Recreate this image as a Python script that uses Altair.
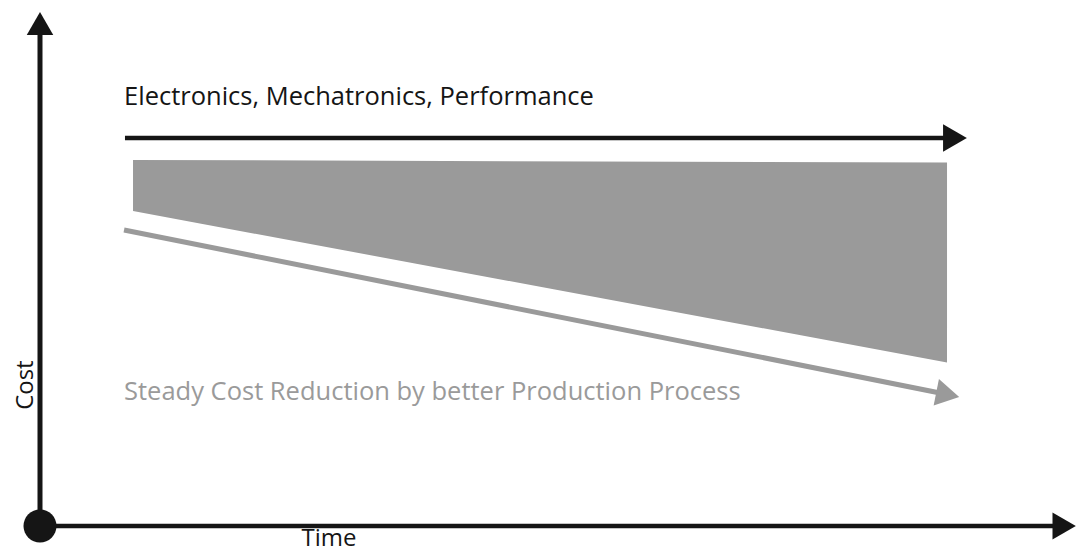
import altair as alt
import pandas as pd

# Coordinate system: time (x) and cost (y) in arbitrary units, origin at the axes' corner
X_DOMAIN = [-3.065, 99.234]
Y_DOMAIN = [-5.019, 100.0]

# Axes
axis_x_end = [0.0, 97.4]          # horizontal (Time) axis line
axis_y_end = [0.0, 95.4]          # vertical (Cost) axis line
axis_x_head = [98.1]              # arrow head position on time axis
axis_y_head = [97.0]              # arrow head position on cost axis

# Black arrow: Electronics, Mechatronics, Performance
perf_x = [8.14, 86.78]
perf_y = [74.9, 74.9]
perf_head_x = [87.64]
perf_head_y = [74.9]

# Grey wedge (cost gap)
wedge_x = [8.91, 86.88]
wedge_top = [70.66, 70.17]
wedge_bottom = [60.81, 31.56]

# Grey arrow: steady cost reduction
red_x = [8.05, 86.21]
red_y = [57.14, 25.68]
red_head_x = [86.95]
red_head_y = [25.37]
red_angle = 11.3

# Labels
label_perf = "Electronics, Mechatronics, Performance"
label_red = "Steady Cost Reduction by better Production Process"
label_x_title = "Time"
label_y_title = "Cost"

FONT = "Open Sans"
BLACK = "#151515"
GREY = "#9a9a9a"

xs = alt.Scale(domain=X_DOMAIN, nice=False, zero=False)
ys = alt.Scale(domain=Y_DOMAIN, nice=False, zero=False)


def X(field):
    return alt.X(field, type="quantitative", scale=xs, axis=None)


def Y(field):
    return alt.Y(field, type="quantitative", scale=ys, axis=None)


# wedge
wedge = alt.Chart(pd.DataFrame({"x": wedge_x, "top": wedge_top, "bottom": wedge_bottom})).mark_area(
    color=GREY, opacity=1
).encode(x=X("x"), y=Y("top"), y2="bottom")

# axes lines
yaxis = alt.Chart(pd.DataFrame({"x": [0.0, 0.0], "y": axis_y_end})).mark_line(
    color=BLACK, strokeWidth=5
).encode(x=X("x"), y=Y("y"))
xaxis = alt.Chart(pd.DataFrame({"x": axis_x_end, "y": [0.0, 0.0]})).mark_line(
    color=BLACK, strokeWidth=4.5
).encode(x=X("x"), y=Y("y"))

yhead = alt.Chart(pd.DataFrame({"x": [0.0], "y": axis_y_head})).mark_point(
    shape="triangle-up", filled=True, color=BLACK, size=702, opacity=1
).encode(x=X("x"), y=Y("y"))
xhead = alt.Chart(pd.DataFrame({"x": axis_x_head, "y": [0.0]})).mark_point(
    shape="triangle-right", filled=True, color=BLACK, size=729, opacity=1
).encode(x=X("x"), y=Y("y"))

origin = alt.Chart(pd.DataFrame({"x": [0.0], "y": [0.0]})).mark_point(
    shape="circle", filled=True, color=BLACK, size=1089, opacity=1
).encode(x=X("x"), y=Y("y"))

# performance arrow
perf = alt.Chart(pd.DataFrame({"x": perf_x, "y": perf_y})).mark_line(
    color=BLACK, strokeWidth=4.5
).encode(x=X("x"), y=Y("y"))
perf_head = alt.Chart(pd.DataFrame({"x": perf_head_x, "y": perf_head_y})).mark_point(
    shape="triangle-right", filled=True, color=BLACK, size=756, opacity=1
).encode(x=X("x"), y=Y("y"))

# reduction arrow
red = alt.Chart(pd.DataFrame({"x": red_x, "y": red_y})).mark_line(
    color=GREY, strokeWidth=5
).encode(x=X("x"), y=Y("y"))
red_head = alt.Chart(pd.DataFrame({"x": red_head_x, "y": red_head_y})).mark_point(
    shape="triangle-right", filled=True, color=GREY, size=729, opacity=1, angle=red_angle
).encode(x=X("x"), y=Y("y"))

# texts
t_perf = alt.Chart(pd.DataFrame({"x": [8.05], "y": [81.27], "label": [label_perf]})).mark_text(
    font=FONT, fontSize=25.5, color=BLACK, align="left", baseline="alphabetic"
).encode(x=X("x"), y=Y("y"), text="label:N")
t_red = alt.Chart(pd.DataFrame({"x": [8.05], "y": [24.32], "label": [label_red]})).mark_text(
    font=FONT, fontSize=25.5, color=GREY, align="left", baseline="alphabetic"
).encode(x=X("x"), y=Y("y"), text="label:N")
t_time = alt.Chart(pd.DataFrame({"x": [27.68], "y": [-4.85], "label": [label_x_title]})).mark_text(
    font=FONT, fontSize=24, color=BLACK, align="center", baseline="bottom"
).encode(x=X("x"), y=Y("y"), text="label:N")
t_cost = alt.Chart(pd.DataFrame({"x": [-0.67], "y": [27.2], "label": [label_y_title]})).mark_text(
    font=FONT, fontSize=24, color=BLACK, align="center", baseline="alphabetic", angle=270
).encode(x=X("x"), y=Y("y"), text="label:N")

chart = alt.layer(
    wedge, red, red_head, perf, perf_head, yaxis, xaxis, yhead, xhead, origin,
    t_perf, t_red, t_time, t_cost
).properties(
    width=1068, height=544, padding=0, autosize="none", background="white"
).configure_view(stroke=None)

chart.save("out.html", embed_options={"renderer": "svg", "actions": False})
